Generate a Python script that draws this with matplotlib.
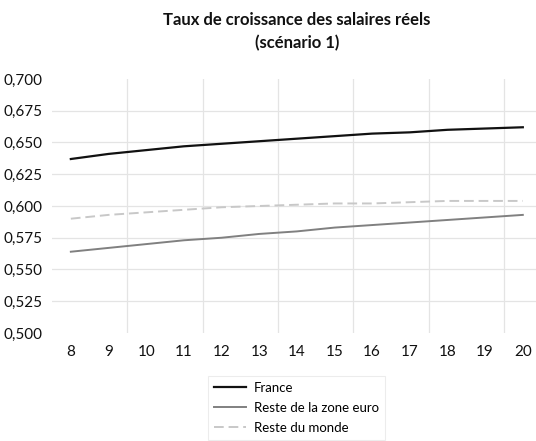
import matplotlib
matplotlib.use("Agg")
import matplotlib.pyplot as plt

plt.rcParams['font.family'] = ['Lato', 'DejaVu Sans']

years = [8, 9, 10, 11, 12, 13, 14, 15, 16, 17, 18, 19, 20]
france = [0.637, 0.641, 0.644, 0.647, 0.649, 0.651, 0.653, 0.655, 0.657, 0.658, 0.660, 0.661, 0.662]
zone_euro = [0.564, 0.567, 0.570, 0.573, 0.575, 0.578, 0.580, 0.583, 0.585, 0.587, 0.589, 0.591, 0.593]
monde = [0.590, 0.593, 0.595, 0.597, 0.599, 0.600, 0.601, 0.602, 0.602, 0.603, 0.604, 0.604, 0.604]
yticks = [0.500, 0.525, 0.550, 0.575, 0.600, 0.625, 0.650, 0.675, 0.700]
ytick_labels = ["0,500", "0,525", "0,550", "0,575", "0,600", "0,625", "0,650", "0,675", "0,700"]
labels = ["France", "Reste de la zone euro", "Reste du monde"]

fig = plt.figure(figsize=(5.36, 4.41), dpi=100)
ax = fig.add_axes([52/536, 1-333/441, 1-52/536, (333-79)/441])

grid_c = '#e4e4e4'
for v in yticks[1:-1]:
    ax.axhline(v, color=grid_c, lw=0.9, zorder=0)
for xv in [9.5, 11.5, 13.5, 15.5, 17.5, 19.5]:
    ax.axvline(xv, color=grid_c, lw=0.9, zorder=0)

ax.plot(years, france, color='#111111', lw=1.6, label=labels[0])
ax.plot(years, zone_euro, color='#808080', lw=1.4, label=labels[1])
ax.plot(years, monde, color='#c8c8c8', lw=1.4, ls=(0, (5, 2.5)), label=labels[2])

ax.set_xlim(7.5, 20.35)
ax.set_ylim(0.5, 0.7)
ax.set_yticks(yticks)
ax.set_yticklabels(ytick_labels)
ax.set_xticks(years)
ax.set_xticklabels([str(y) for y in years])
ax.tick_params(axis='both', length=0, labelsize=11, colors='#111111')
ax.tick_params(axis='y', pad=7)
ax.tick_params(axis='x', pad=9)
for s in ax.spines.values():
    s.set_visible(False)

fig.text(297/536, 1-20/441, "Taux de croissance des salaires réels", ha='center', va='center',
         fontsize=12, fontweight='bold', color='#111111')
fig.text(297/536, 1-43/441, "(scénario 1)", ha='center', va='center',
         fontsize=12, fontweight='bold', color='#111111')

leg = fig.legend(loc='upper left', bbox_to_anchor=(208/536, 1-376/441), frameon=True,
                 fontsize=9.5, handlelength=2.4, handletextpad=0.65, labelspacing=0.6,
                 borderpad=0.45, borderaxespad=0, fancybox=False, edgecolor='#e8e8e8')
leg.get_frame().set_linewidth(0.8)

fig.savefig("out.png", dpi=100, facecolor='white')
